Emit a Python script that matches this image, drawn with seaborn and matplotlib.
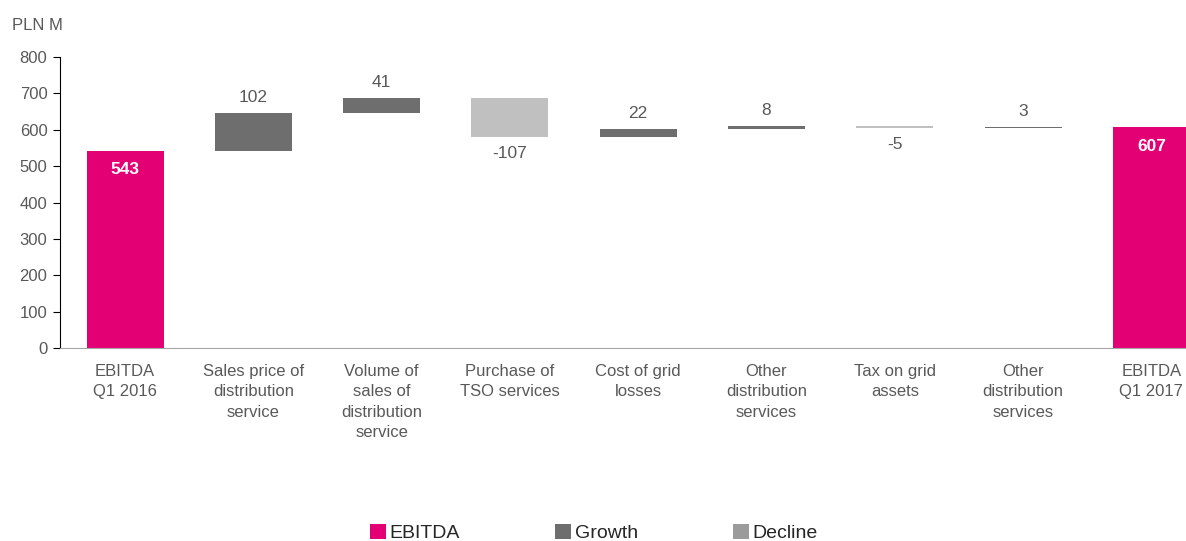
import pandas as pd
import matplotlib.pyplot as plt
import seaborn as sns
from matplotlib.patches import Patch
from matplotlib.transforms import Bbox, TransformedBbox

categories = [
    "EBITDA\nQ1 2016",
    "Sales price of\ndistribution\nservice",
    "Volume of\nsales of\ndistribution\nservice",
    "Purchase of\nTSO services",
    "Cost of grid\nlosses",
    "Other\ndistribution\nservices",
    "Tax on grid\nassets",
    "Other\ndistribution\nservices",
    "EBITDA\nQ1 2017",
]
changes = [543, 102, 41, -107, 22, 8, -5, 3, 607]
kinds = ["EBITDA", "Growth", "Growth", "Decline", "Growth", "Growth", "Decline", "Growth", "EBITDA"]

# waterfall bases
bottoms = []
running = 0
for i, v in enumerate(changes):
    if kinds[i] == "EBITDA":
        bottoms.append(0)
        running = v
    else:
        bottoms.append(min(running, running + v))
        running += v
heights = [abs(v) for v in changes]

# two categories share a name, so use a step key for the x axis
df = pd.DataFrame({"step": [str(i) for i in range(len(categories))], "height": heights,
                   "bottom": bottoms, "change": changes, "kind": kinds})

bar_colors = {"EBITDA": "#E20074", "Growth": "#6E6E6E", "Decline": "#C0C0C0"}
legend_colors = {"EBITDA": "#E20074", "Growth": "#6E6E6E", "Decline": "#9B9B9B"}
gray_text = "#595959"

sns.set_style("white")
plt.rcParams["font.family"] = ["Liberation Sans", "DejaVu Sans"]

fig = plt.figure(figsize=(11.86, 5.41), dpi=100)
ax = fig.add_axes([60 / 1186, 0.3567, 1126 / 1186, 0.5379])

sns.barplot(data=df, x="step", y="height", bottom=df["bottom"].values,
            color="#6E6E6E", width=0.6, ax=ax, saturation=1)

for patch, k in zip(ax.patches, df["kind"]):
    patch.set_facecolor(bar_colors[k])
    patch.set_edgecolor("none")

# value labels
for i, row in df.iterrows():
    if row["kind"] == "EBITDA":
        ax.annotate(f"{row['change']}", (i, row["bottom"] + row["height"]),
                    xytext=(0, -14), textcoords="offset points", ha="center", va="center",
                    color="white", fontsize=12.5, fontweight="bold")
    elif row["change"] > 0:
        ax.annotate(f"{row['change']}", (i, row["bottom"] + row["height"]),
                    xytext=(0, 6), textcoords="offset points", ha="center", va="bottom",
                    color=gray_text, fontsize=12.5)
    else:
        ax.annotate(f"{row['change']}", (i, row["bottom"]),
                    xytext=(0, -6), textcoords="offset points", ha="center", va="top",
                    color=gray_text, fontsize=12.5)

ax.set_xticks(range(len(categories)))
ax.set_xticklabels(categories)
ax.set_xlim(-0.507, 8.27)
ax.set_ylim(0, 800)
ax.set_yticks(range(0, 801, 100))
ax.set_xlabel("")
ax.set_ylabel("")

sns.despine(ax=ax, top=True, right=True)
ax.spines["left"].set_color("black")
ax.spines["bottom"].set_color("#A6A6A6")
ax.tick_params(axis="y", left=True, length=5, color="black", labelcolor=gray_text,
               labelsize=12, pad=4)
ax.tick_params(axis="x", bottom=False, labelcolor=gray_text, labelsize=12, pad=8)
for lab in ax.get_xticklabels():
    lab.set_linespacing(1.45)

fig.text(12 / 1186, 1 - 25 / 541, "PLN M", color=gray_text, fontsize=12, va="center")

# the bottom of the axis labels is cut in the original
clip = TransformedBbox(Bbox([[0, 102 / 541], [1, 1]]), fig.transFigure)
for lab in ax.get_xticklabels():
    lab.set_clip_on(True)
    lab.set_clip_box(clip)

handles = [Patch(facecolor=legend_colors[k], edgecolor="none", label=k)
           for k in ["EBITDA", "Growth", "Decline"]]
fig.legend(handles=handles, loc="center", bbox_to_anchor=(0.501, 1 - 533 / 541), ncol=3,
           frameon=False, fontsize=14, handlelength=0.8, handleheight=0.85,
           handletextpad=0.2, columnspacing=4.9, borderaxespad=0)

fig.savefig("out.png", dpi=100)
